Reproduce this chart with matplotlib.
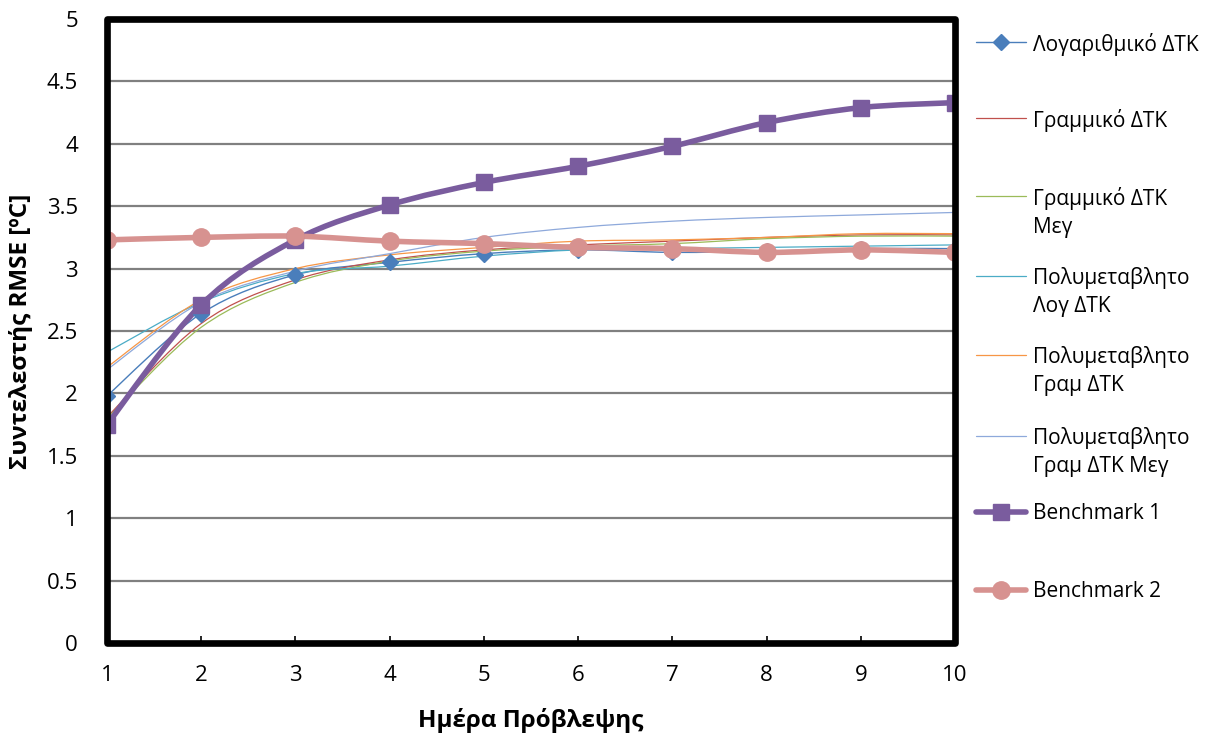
import numpy as np
import matplotlib.pyplot as plt
from matplotlib.path import Path
from matplotlib.patches import PathPatch, Rectangle
from matplotlib.lines import Line2D

plt.rcParams['font.family'] = ['Open Sans', 'DejaVu Sans']

# Forecast day
days = [1, 2, 3, 4, 5, 6, 7, 8, 9, 10]

# RMSE per model [°C]
log_dtk = [1.98, 2.64, 2.95, 3.05, 3.12, 3.15, 3.13, 3.14, 3.16, 3.16]
lin_dtk = [1.81, 2.56, 2.91, 3.07, 3.15, 3.19, 3.22, 3.25, 3.27, 3.27]
lin_dtk_meg = [1.80, 2.53, 2.89, 3.06, 3.14, 3.18, 3.20, 3.24, 3.26, 3.26]
multi_log_dtk = [2.33, 2.73, 2.96, 3.02, 3.10, 3.15, 3.16, 3.17, 3.18, 3.19]
multi_lin_dtk = [2.21, 2.75, 3.00, 3.11, 3.17, 3.22, 3.23, 3.25, 3.28, 3.28]
multi_lin_dtk_meg = [2.19, 2.73, 2.98, 3.12, 3.25, 3.33, 3.38, 3.41, 3.43, 3.45]
benchmark1 = [1.75, 2.71, 3.23, 3.51, 3.69, 3.82, 3.98, 4.17, 4.29, 4.33]
benchmark2 = [3.23, 3.25, 3.26, 3.22, 3.20, 3.17, 3.16, 3.13, 3.15, 3.13]

labels = ['Λογαριθμικό ΔΤΚ', 'Γραμμικό ΔΤΚ', 'Γραμμικό ΔΤΚ\nΜεγ',
          'Πολυμεταβλητο\nΛογ ΔΤΚ', 'Πολυμεταβλητο\nΓραμ ΔΤΚ',
          'Πολυμεταβλητο\nΓραμ ΔΤΚ Μεγ', 'Benchmark 1', 'Benchmark 2']

series = [
    (log_dtk, dict(color='#4A7EBB', lw=1.0, marker='D', ms=8.5)),
    (lin_dtk, dict(color='#C0504D', lw=0.9, marker=None, ms=0)),
    (lin_dtk_meg, dict(color='#9BBB59', lw=0.9, marker=None, ms=0)),
    (multi_log_dtk, dict(color='#4BACC6', lw=0.9, marker=None, ms=0)),
    (multi_lin_dtk, dict(color='#F79646', lw=0.9, marker=None, ms=0)),
    (multi_lin_dtk_meg, dict(color='#8EA9DB', lw=0.9, marker=None, ms=0)),
    (benchmark1, dict(color='#7A5C9E', lw=4.0, marker='s', ms=11)),
    (benchmark2, dict(color='#D79290', lw=4.0, marker='o', ms=12.5)),
]


def smooth_path(x, y, k=1 / 6):
    # cubic Bezier through the points (spreadsheet-style smoothed line)
    x = np.asarray(x, float)
    y = np.asarray(y, float)
    n = len(x)
    verts = [(x[0], y[0])]
    codes = [Path.MOVETO]
    for i in range(n - 1):
        i0 = max(i - 1, 0)
        i3 = min(i + 2, n - 1)
        c1 = (x[i] + (x[i + 1] - x[i0]) * k, y[i] + (y[i + 1] - y[i0]) * k)
        c2 = (x[i + 1] - (x[i3] - x[i]) * k, y[i + 1] - (y[i3] - y[i]) * k)
        verts += [c1, c2, (x[i + 1], y[i + 1])]
        codes += [Path.CURVE4] * 3
    return Path(verts, codes)


fig = plt.figure(figsize=(12.1, 7.42), dpi=100)
ax = fig.add_axes([0.0884, 0.1334, 0.7010, 0.8410])

for vals, st in series:
    ax.add_patch(PathPatch(smooth_path(days, vals), facecolor='none',
                           edgecolor=st['color'], lw=st['lw'],
                           capstyle='round', joinstyle='round', zorder=3))
    if st['marker']:
        ax.plot(days, vals, linestyle='none', marker=st['marker'],
                ms=st['ms'], color=st['color'], mec=st['color'], zorder=4)

ax.set_xlim(1, 10)
ax.set_ylim(0, 5)
ax.set_xticks(days)
ax.set_yticks(np.arange(0, 5.01, 0.5))
ax.set_yticklabels(['0', '0.5', '1', '1.5', '2', '2.5', '3', '3.5', '4', '4.5', '5'])
ax.yaxis.grid(True, color='#808080', lw=1.6)
ax.set_axisbelow(True)
ax.tick_params(axis='x', direction='in', length=5, width=1.2, pad=16, labelsize=16)
ax.tick_params(axis='y', length=0, pad=21, labelsize=16)
for sp in ax.spines.values():
    sp.set_visible(False)

# heavy rounded frame around the plot area
ax.add_patch(Rectangle((0, 0), 1, 1, transform=ax.transAxes, fill=False,
                       edgecolor='black', lw=4.8, joinstyle='round',
                       clip_on=False, zorder=10))

ax.set_xlabel('Ημέρα Πρόβλεψης', fontsize=17.5, fontweight='bold', labelpad=16)
ax.set_ylabel('Συντελεστής RMSE [ºC]', fontsize=17.5, fontweight='bold', labelpad=10)

# legend on the right, handle beside the first line of each label
W, H = 1210, 742
rows = [42, 118, 196, 276, 355, 436, 512, 590]
for (vals, st), lab, yp in zip(series, labels, rows):
    yf = 1 - yp / H
    fig.add_artist(Line2D([976 / W, 1026 / W], [yf, yf], color=st['color'],
                          lw=st['lw'], solid_capstyle='round'))
    if st['marker']:
        fig.add_artist(Line2D([1001 / W], [yf], marker=st['marker'],
                              ms=st['ms'], color=st['color'], mec=st['color']))
    fig.text(1033 / W, yf + 9 / H, lab, fontsize=15, va='top', ha='left',
             linespacing=1.45)

fig.savefig('out.png', dpi=100)
